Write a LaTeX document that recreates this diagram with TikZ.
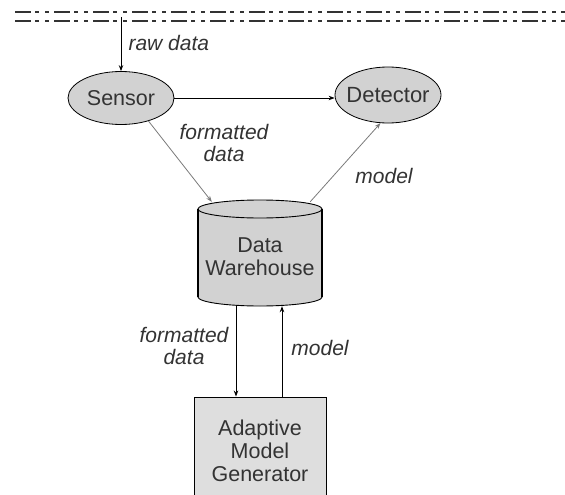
\documentclass[tikz,border=0pt]{standalone}
\usepackage{fontspec}
\setmainfont{Liberation Sans}
\usetikzlibrary{arrows.meta,shapes.geometric}
\definecolor{txt}{HTML}{333333}
\definecolor{cellgray}{HTML}{D2D2D2}
\definecolor{boxgray}{HTML}{DEDEDE}
\definecolor{thin}{HTML}{7A7A7A}
\begin{document}
\begin{tikzpicture}[x=1pt,y=-1pt,
  every node/.style={text=txt,font=\fontsize{21.5}{23}\selectfont},
  lbl/.style={font=\fontsize{21}{22.5}\selectfont\itshape,align=center},
  ell/.style={ellipse,draw=black,line width=0.8pt,fill=cellgray,inner sep=0pt},
  arr/.style={line width=0.9pt,-{Stealth[length=6pt,width=4.5pt]}},
  garr/.style={draw=thin,line width=0.8pt,-{Stealth[length=6pt,width=4.5pt]}},
  rule/.style={draw=txt,line width=1.5pt,dash pattern=on 16pt off 4pt on 4pt off 6pt on 4pt off 5pt}]
\useasboundingbox (0,0) rectangle (565,495);
% top rules
\draw[rule] (15,12) -- (575,12);
\draw[rule] (15,21) -- (575,21);
% nodes
\node[ell,minimum width=106pt,minimum height=53pt] (s) at (121,98) {Sensor};
\node[ell,inner xsep=-14pt,minimum width=106pt,minimum height=56pt,font=\fontsize{22}{23}\selectfont] (d) at (388,95) {Detector};
\node[minimum width=124pt,minimum height=106pt,inner sep=0pt,align=center] (dw) at (260,253) {};
% cylinder body
\fill[cellgray] (198,209) rectangle (322,297);
\fill[cellgray] (260,297) ellipse [x radius=62pt,y radius=9pt];
\fill[cellgray] (260,209) ellipse [x radius=62pt,y radius=9pt];
\begin{scope}
  \clip (190,297) rectangle (330,312);
  \draw[line width=0.9pt] (260,297) ellipse [x radius=62pt,y radius=9pt];
\end{scope}
\draw[line width=0.9pt] (260,209) ellipse [x radius=62pt,y radius=9pt];
\draw[line width=1.8pt] (198,209) -- (198,297);
\draw[line width=1.8pt] (322,209) -- (322,297);
\node[align=center] at (260,257) {Data\\Warehouse};
\node[draw=black,line width=0.9pt,fill=boxgray,minimum width=132pt,minimum height=108pt,align=center] (amg) at (260,451) {Adaptive\\Model\\Generator};
% raw data
\coordinate (src) at (121,17);
\draw[arr] (src) -- (s.north);
\node[lbl,anchor=west] (rd) at (125,43) {raw data};
% sensor -> detector
\draw[arr] (s.east) -- (s.east -| d.west);
% diagonals
\draw[garr] (s.-40) -- ([xshift=14pt,yshift=-2pt]dw.north west);
\draw[garr] ([xshift=-12pt,yshift=-2pt]dw.north east) -- (d.-105);
\node[lbl] (fd1) at (224,143) {formatted\\data};
\node[lbl] (m1) at (384,176) {model};
% vertical arrows
\draw[arr] ([xshift=-24pt]dw.south) -- ([xshift=-24pt]amg.north);
\draw[arr] ([xshift=22pt]amg.north) -- ([xshift=22pt]dw.south);
\node[lbl] (fd2) at (184,346) {formatted\\data};
\node[lbl] (m2) at (320,348) {model};
\end{tikzpicture}
\end{document}
